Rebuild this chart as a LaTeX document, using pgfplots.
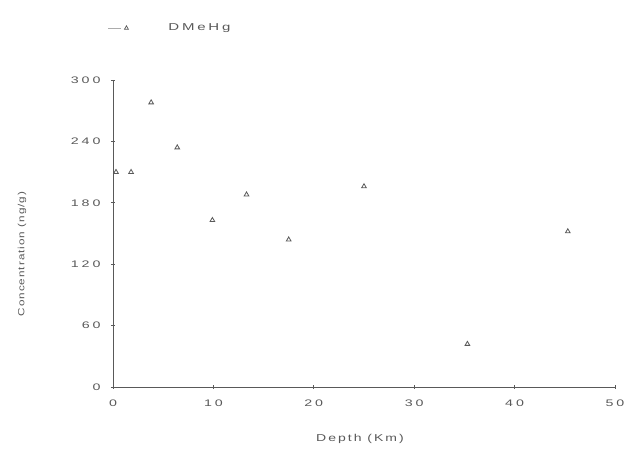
\documentclass[border=0pt]{standalone}
\usepackage{fontspec}
\setmainfont{Liberation Sans}
\usepackage{pgfplots}
\pgfplotsset{compat=1.18}
\definecolor{ink}{gray}{0.35}
\definecolor{txt}{gray}{0.35}
\newcommand{\tickfont}{\fontsize{9.5}{11}\selectfont\addfontfeatures{FakeStretch=1.5,LetterSpace=30}}
\newcommand{\xlabfont}{\fontsize{10}{11}\selectfont\addfontfeatures{FakeStretch=1.4,LetterSpace=20}}
\newcommand{\ylabfont}{\fontsize{9}{10}\selectfont\addfontfeatures{FakeStretch=1.3,LetterSpace=11}}
\newcommand{\legfont}{\fontsize{10}{11}\selectfont\addfontfeatures{FakeStretch=1.5,LetterSpace=28}}
\begin{document}
\begin{tikzpicture}
\begin{axis}[
  scale only axis, width=502pt, height=307pt,
  at={(0,0)}, anchor=origin,
  xmin=0, xmax=50, ymin=0, ymax=300,
  axis x line*=bottom, axis y line*=left,
  axis line style={ink, line width=0.8pt},
  xtick={0,10,...,50}, ytick={0,60,...,300},
  tick style={ink, line width=0.6pt},
  major tick length=4pt,
  tick align=center,
  /pgf/number format/assume math mode=true,
  ticklabel style={font=\tickfont, txt},
  xticklabel style={yshift=-7pt},
  yticklabel style={xshift=-7pt},
  xlabel={Depth (Km)}, ylabel={Concentration (ng/g)},
  xlabel style={font=\xlabfont, txt, at={(axis description cs:0.492,-0.168)}, anchor=center},
  ylabel style={font=\ylabfont, txt, at={(axis description cs:-0.181,0.433)}, anchor=center},
  clip=false,
  legend style={draw=none, fill=none, inner sep=0pt, at={(axis description cs:-0.01,1.169)}, anchor=west,
    font=\legfont, text=txt, nodes={inner sep=0pt}},
  legend image code/.code={
    \draw[ink, line width=0.5pt, opacity=0.5] (0pt,0pt) -- (13pt,0pt);
    \draw[ink, mark=triangle, mark size=2.3pt, mark options={line width=0.7pt}] plot coordinates {(18pt,0pt)};
    \path[draw=none] (0pt,0pt) -- (60pt,0pt);},
]
\addplot[only marks, mark=triangle, mark size=2.7pt, ink, mark options={line width=0.8pt}] coordinates {
(0.3,210) (1.8,210) (3.8,278) (6.4,234) (9.9,163) (13.3,188) (17.5,144) (25.0,196) (35.3,42) (45.3,152)
};
\addlegendentry{DMeHg}
\end{axis}
\useasboundingbox (-113pt,-62pt) rectangle (517pt,387pt);
\end{tikzpicture}
\end{document}
